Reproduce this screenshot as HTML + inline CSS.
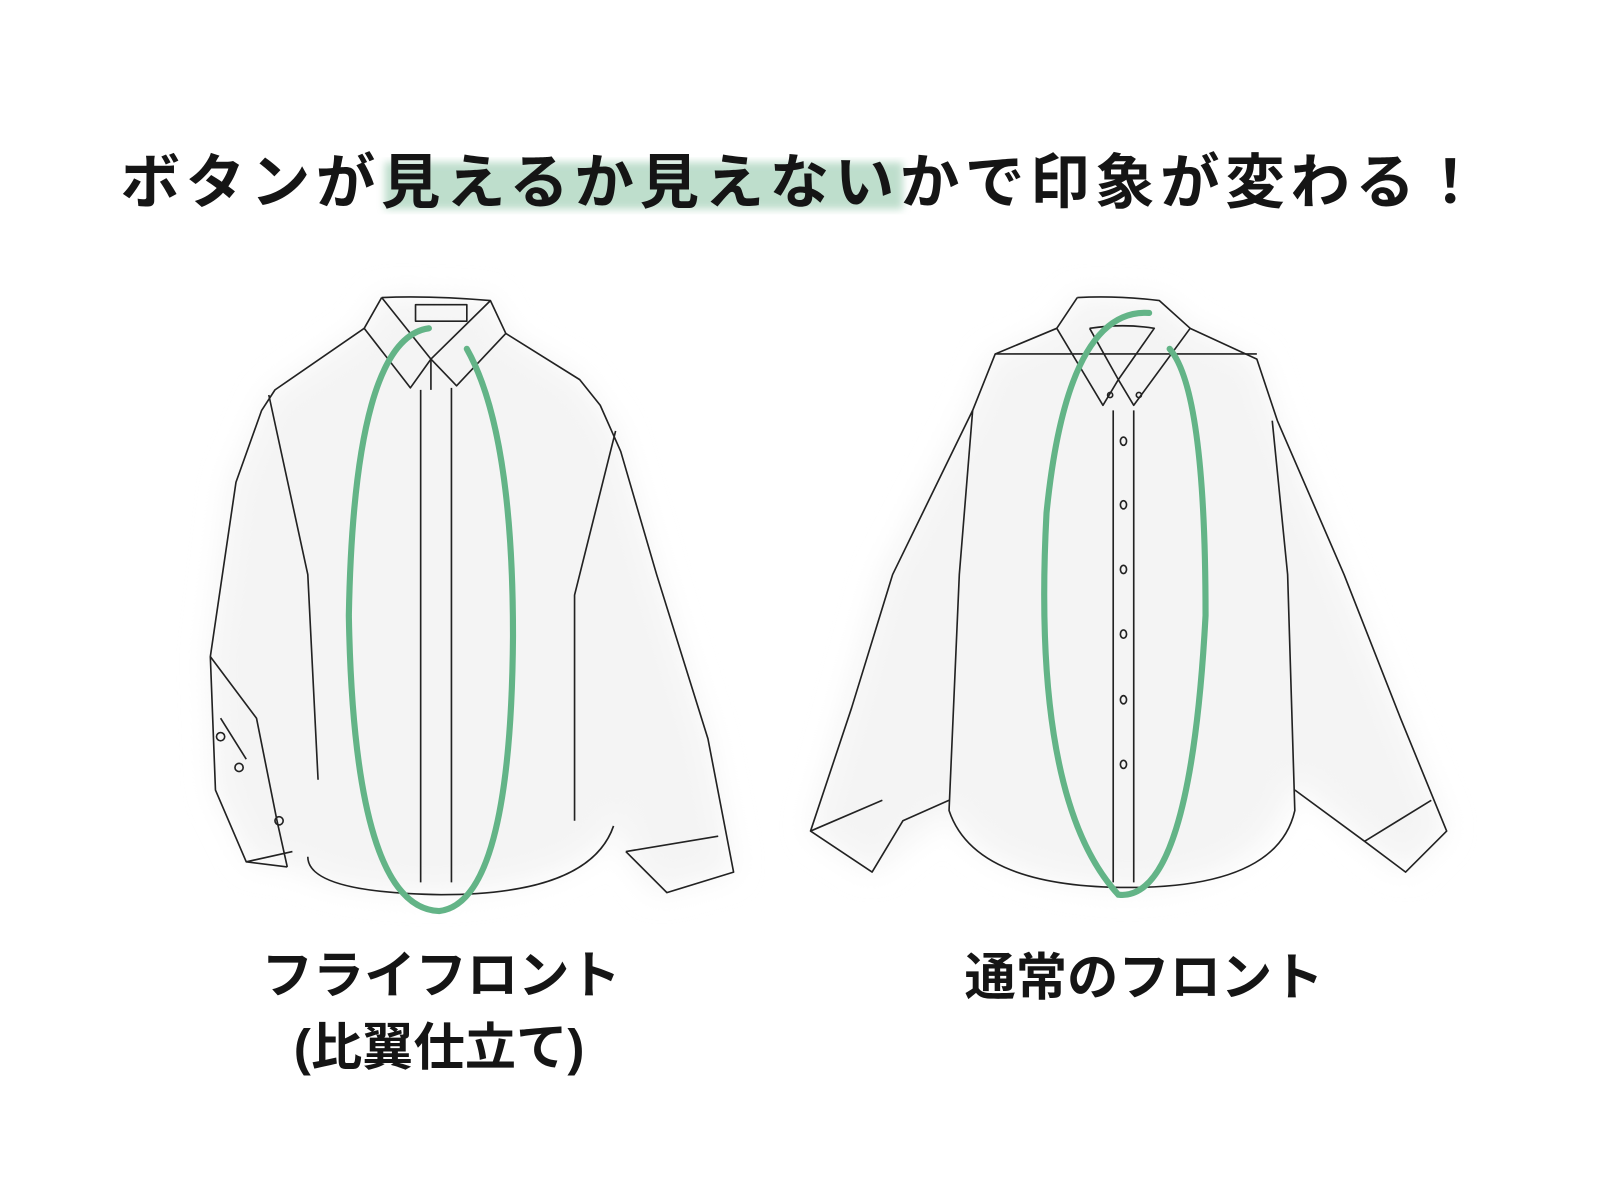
<!DOCTYPE html>
<html><head><meta charset="utf-8"><style>
html,body{margin:0;padding:0;background:#fff;}
svg{display:block}
text{font-family:"Liberation Sans","Noto Sans CJK JP",sans-serif;font-weight:bold;fill:#151515}
</style></head><body>
<svg width="1600" height="1200" viewBox="0 0 1600 1200">
<defs>
<filter id="bl"><feGaussianBlur stdDeviation="4"/></filter>
<filter id="sh"><feGaussianBlur stdDeviation="14"/></filter>
</defs>
<g transform="scale(1.026)">
<!-- highlight -->
<rect x="375" y="158" width="505" height="46" fill="#a9d3bc" opacity="0.75" filter="url(#bl)"/>
<text x="780" y="198" font-size="58" text-anchor="middle" textLength="1325" lengthAdjust="spacing">ボタンが見えるか見えないかで印象が変わる！</text>

<g fill="none" stroke="#222" stroke-width="1.6" stroke-linejoin="round">
<!-- LEFT SHIRT -->
<path d="M372,290 L478,293 L493,325 L565,370 L600,420 L640,560 L690,720 L715,850 L640,870 L610,830 L602,790 Q590,860 430,870 Q320,868 290,845 L245,840 L210,770 L205,640 L225,470 L262,385 L355,320 Z" fill="#f4f4f4" stroke="none" filter="url(#sh)"/>
<path d="M355,320 L268,380 L255,400 L230,470 L205,640 L210,770 L240,840 L280,845"/>
<path d="M493,325 L565,370 L585,395 L605,440 L640,560 L690,720 L715,850 L650,870 L610,830"/>
<path d="M300,835 Q300,870 430,872 Q575,872 598,805"/>
<path d="M372,290 L355,320 L400,378 L420,350 L445,376 L493,325 L478,293 Q420,288 372,290"/>
<path d="M372,290 L420,350 L478,293"/>
<rect x="405" y="297" width="50" height="16"/>
<path d="M410,380 L410,860 M440,378 L440,860 M420,350 L420,380"/>
<path d="M205,640 L250,700 L270,800 L280,845 M215,700 L240,740 M240,840 L285,830 M262,385 L300,560 L310,760 M600,420 L560,580 L560,800 M610,830 L700,815"/>
<circle cx="215" cy="718" r="4"/><circle cx="233" cy="748" r="4"/><circle cx="272" cy="800" r="4"/>
<!-- RIGHT SHIRT -->
<path d="M1050,290 L1130,293 L1160,320 L1225,350 L1245,410 L1410,810 L1370,850 L1330,820 L1262,760 Q1240,860 1100,865 Q960,860 925,790 L850,850 L790,810 L860,560 L945,400 L965,350 L1030,320 Z" fill="#f4f4f4" stroke="none" filter="url(#sh)"/>
<path d="M1030,320 L970,345 L948,400 L870,560 L830,690 L790,810 L850,850 L880,800 L925,780"/>
<path d="M948,400 L935,560 L925,790 Q950,865 1100,865 Q1245,865 1262,790 L1255,560 L1240,410"/>
<path d="M1160,320 L1225,350 L1245,410 L1310,560 L1365,700 L1410,810 L1370,850 L1330,820 L1262,770"/>
<path d="M1050,290 L1030,320 L1075,395 L1090,370 L1105,395 L1160,320 L1130,293 Q1090,288 1050,290"/>
<path d="M1062,320 L1090,370 L1125,320 Q1095,315 1062,320"/>
<path d="M1085,400 L1085,860 M1105,400 L1105,860 M790,810 L860,780 M1330,820 L1395,780"/>
<path d="M970,345 L1225,345"/>
<circle cx="1082" cy="385" r="2.5"/><circle cx="1110" cy="385" r="2.5"/>
<ellipse cx="1095" cy="430" rx="3" ry="4"/><ellipse cx="1095" cy="492" rx="3" ry="4"/><ellipse cx="1095" cy="555" rx="3" ry="4"/><ellipse cx="1095" cy="618" rx="3" ry="4"/><ellipse cx="1095" cy="682" rx="3" ry="4"/><ellipse cx="1095" cy="745" rx="3" ry="4"/>
</g>
<!-- green ovals -->
<path d="M455,340 Q500,420 500,620 Q498,880 428,888 Q345,885 340,600 Q345,330 418,320" fill="none" stroke="#63b487" stroke-width="6" stroke-linecap="round"/>
<path d="M1120,305 Q1040,300 1020,500 Q1005,780 1090,872 Q1160,880 1175,600 Q1175,380 1140,340" fill="none" stroke="#63b487" stroke-width="6" stroke-linecap="round"/>

<text x="430" y="968" font-size="50" text-anchor="middle">フライフロント</text>
<text x="428" y="1038" font-size="50" text-anchor="middle">(比翼仕立て)</text>
<text x="1115" y="970" font-size="50" text-anchor="middle">通常のフロント</text>
</g>
</svg>
</body></html>
